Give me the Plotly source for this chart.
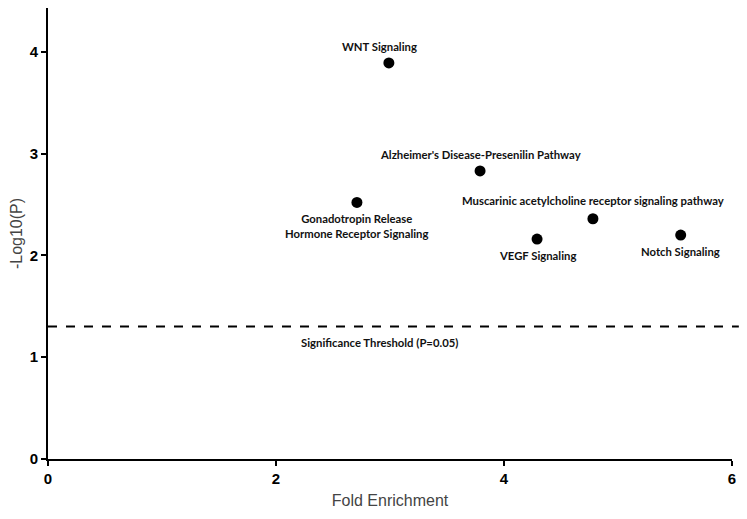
import plotly.graph_objects as go

pathways = ["WNT Signaling", "Alzheimer's Disease-Presenilin Pathway",
            "Gonadotropin Release<br>Hormone Receptor Signaling",
            "Muscarinic acetylcholine receptor signaling pathway",
            "VEGF Signaling", "Notch Signaling"]
fold_enrichment = [2.99, 3.79, 2.71, 4.78, 4.29, 5.55]
neg_log10_p = [3.89, 2.83, 2.52, 2.36, 2.16, 2.20]
label_pos = ["above", "above", "below", "above", "below", "below"]
threshold = 1.301
threshold_label = "Significance Threshold (P=0.05)"
x_ticks = [0, 2, 4, 6]
y_ticks = [0, 1, 2, 3, 4]

fig = go.Figure()
fig.add_trace(go.Scatter(x=fold_enrichment, y=neg_log10_p, mode="markers",
                         marker=dict(color="black", size=11), showlegend=False,
                         cliponaxis=False))

label_font = dict(family="Lato, Open Sans, sans-serif", size=11.3, color="#111")
xshift = {"WNT Signaling": -9}
yshift_above = {"Muscarinic acetylcholine receptor signaling pathway": 10}
for name, xv, yv, pos in zip(pathways, fold_enrichment, neg_log10_p, label_pos):
    fig.add_annotation(x=xv, y=yv, text="<b>" + name + "</b>", showarrow=False,
                       font=label_font, xshift=xshift.get(name, 0),
                       yanchor="bottom" if pos == "above" else "top",
                       yshift=yshift_above.get(name, 8) if pos == "above" else -8)

fig.add_shape(type="line", xref="paper", yref="y", x0=0, x1=1.01, y0=threshold, y1=threshold,
              line=dict(color="black", width=2, dash="dash"))
fig.add_annotation(x=2.91, y=threshold, text="<b>" + threshold_label + "</b>", showarrow=False,
                   font=label_font, yanchor="top", yshift=-7)

axis_common = dict(showline=True, linecolor="black", linewidth=2, ticks="outside",
                   ticklen=5, tickwidth=2, tickcolor="black", showgrid=False, zeroline=False,
                   automargin=False,
                   tickfont=dict(family="Liberation Sans Narrow, Arial Narrow, Arial, sans-serif",
                                 size=15, color="black", weight="bold"),
                   title_font=dict(family="Liberation Sans, Arial, sans-serif", size=16, color="#444"))
fig.update_xaxes(range=[0, 6], tickvals=x_ticks, title_text="Fold Enrichment",
                 title_standoff=9, **axis_common)
fig.update_yaxes(range=[0, 4.43], tickvals=y_ticks, title_text="-Log10(P)",
                 title_standoff=8, **axis_common)

fig.update_layout(width=739, height=511, margin=dict(l=40, r=15, t=0, b=60),
                  plot_bgcolor="white", paper_bgcolor="white")
fig.write_html("out.html")
